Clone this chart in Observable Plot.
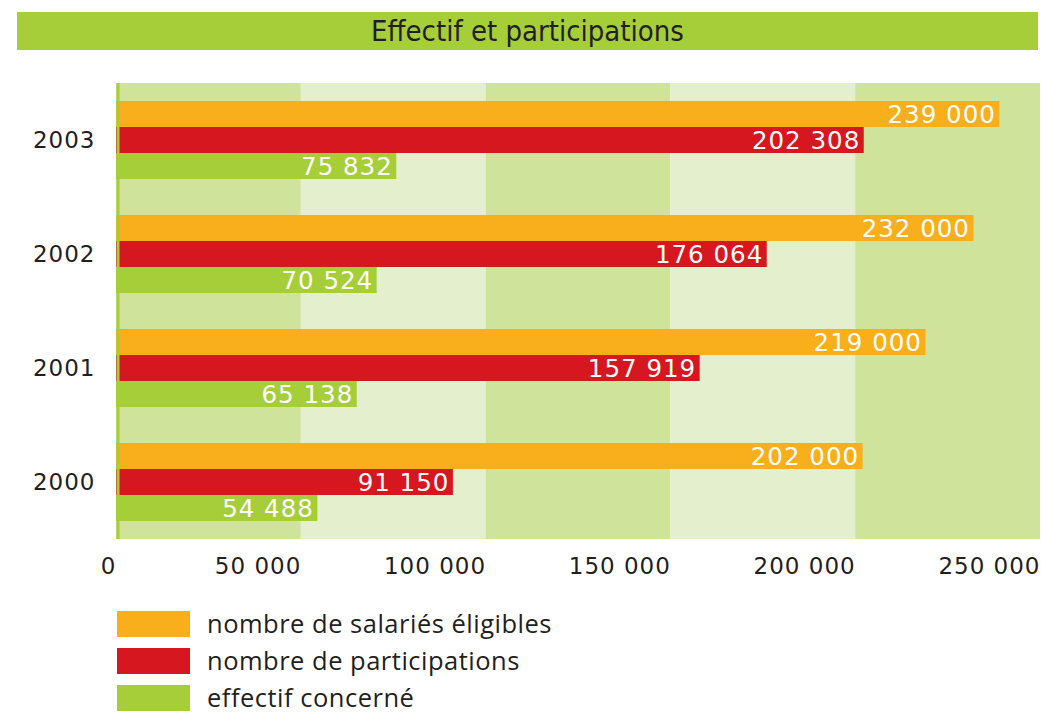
<!DOCTYPE html>
<html>
<head>
<meta charset="utf-8">
<script src="https://cdn.jsdelivr.net/npm/d3@7"></script>
<script src="https://cdn.jsdelivr.net/npm/@observablehq/plot@0.6"></script>
<style>
  body { margin: 0; background: #fff; width: 1041px; height: 714px; position: relative; overflow: hidden; }
  #title { position: absolute; left: 17px; top: 12px; width: 1021px; height: 38px; background: #a6ce39;
    color: #231f20; font-family: "Liberation Sans Narrow", "DejaVu Sans Condensed", sans-serif; font-size: 29px;
    line-height: 39px; text-align: center; }
  #chart { position: absolute; left: 0; top: 0; }
  #legend { position: absolute; left: 117px; top: 605px; font-family: "Open Sans", sans-serif; font-size: 25.5px; letter-spacing: 0.5px; color: #231f20; }
  .item { display: flex; align-items: center; height: 37px; }
  .sw { width: 73px; height: 26px; margin-right: 17px; }
  .item span { position: relative; top: -1px; line-height: 26px; }
</style>
</head>
<body>
<div id="title">Effectif et participations</div>
<div id="chart"></div>
<div id="legend"></div>
<script>
const years = ["2003", "2002", "2001", "2000"];
const series = ["nombre de salariés éligibles", "nombre de participations", "effectif concerné"];
const seriesColors = ["#f9ae1b", "#d7171f", "#a6ce39"];
const eligibles = [239000, 232000, 219000, 202000];
const participations = [202308, 176064, 157919, 91150];
const concernes = [75832, 70524, 65138, 54488];
const tickValues = [0, 50000, 100000, 150000, 200000, 250000];
const tickLabels = ["0", "50 000", "100 000", "150 000", "200 000", "250 000"];
const stripeStarts = [0, 50000, 100000, 150000, 200000];
const stripeEnds = [50000, 100000, 150000, 200000, 250000];
const stripeColors = ["#d0e39b", "#e4efcd"];

const fmt = v => d3.format(",")(v).replace(/,/g, " ");
const seriesValues = [eligibles, participations, concernes];
const rows = [];
years.forEach((y, i) => series.forEach((s, j) => rows.push({year: y, series: s, value: seriesValues[j][i]})));
const stripes = stripeStarts.map((s, i) => ({x1: s, x2: stripeEnds[i], fill: stripeColors[i % 2]}));

const green = "#a6ce39";
const plot = Plot.plot({
  width: 1041,
  height: 600,
  marginLeft: 116,
  marginRight: 1,
  marginTop: 82,
  marginBottom: 60,
  style: {fontFamily: "DejaVu Sans, sans-serif", fontSize: "23px", color: "#231f20", letterSpacing: "1px", background: "transparent"},
  x: {domain: [0, 250000]},
  y: {domain: series, paddingInner: 0, paddingOuter: 0.65, axis: null},
  fy: {domain: years, padding: 0, label: null, tickSize: 0, tickPadding: 21, axis: "left"},
  color: {domain: series, range: seriesColors},
  marks: [
    Plot.rect(stripes, {x1: "x1", x2: "x2", fill: "fill"}),
    Plot.barX(rows, {x: "value", y: "series", fy: "year", fill: "series"}),
    Plot.text(rows, {x: "value", y: "series", fy: "year", text: d => fmt(d.value), textAnchor: "end", dx: -4, dy: 1, fill: "white", fontSize: 24.5}),
    Plot.ruleX([0], {stroke: green, strokeWidth: 3, dx: 1.5}),
    Plot.axisX({ticks: tickValues, tickFormat: (d, i) => tickLabels[i], tickSize: 0, tickPadding: 18, line: true,
      stroke: green, strokeWidth: 3, fill: "#231f20", textAnchor: "end", dx: 0, label: null})
  ]
});
document.getElementById("chart").appendChild(plot);

const legend = document.getElementById("legend");
series.forEach((s, i) => {
  const item = document.createElement("div");
  item.className = "item";
  const sw = document.createElement("div");
  sw.className = "sw";
  sw.style.background = seriesColors[i];
  const t = document.createElement("span");
  t.textContent = s;
  item.appendChild(sw);
  item.appendChild(t);
  legend.appendChild(item);
});
</script>
</body>
</html>
